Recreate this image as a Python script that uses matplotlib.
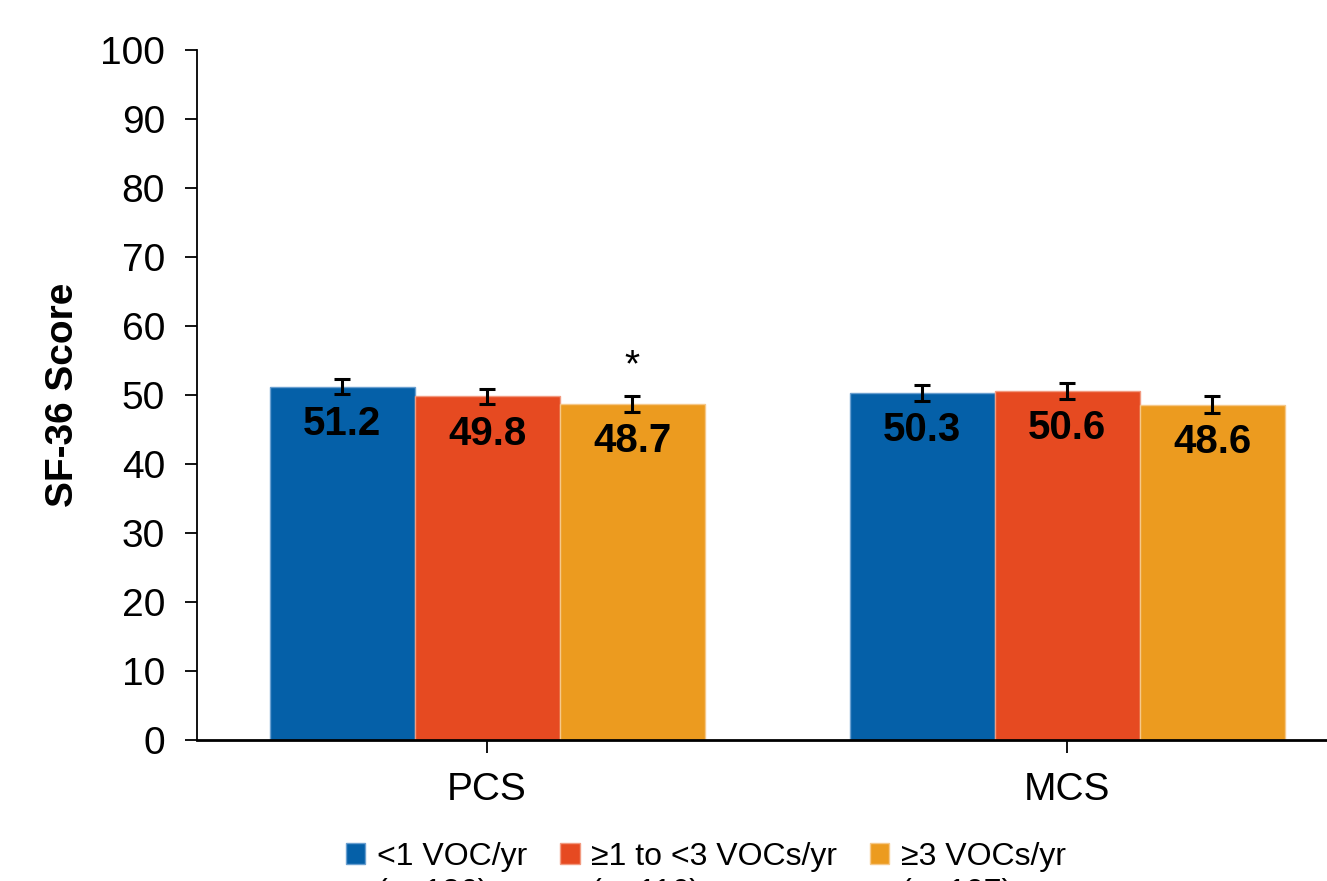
import matplotlib
matplotlib.use("Agg")
import matplotlib.pyplot as plt
import numpy as np

categories = ["PCS", "MCS"]
series_names = ["<1 VOC/yr", "≥1 to <3 VOCs/yr", "≥3 VOCs/yr"]
series_n = ["(n=126)", "(n=116)", "(n=107)"]
values = [[51.2, 50.3], [49.8, 50.6], [48.7, 48.6]]
errors = [[1.1, 1.2], [1.1, 1.2], [1.2, 1.2]]
colors = ["#0560A8", "#E64A21", "#EC9B1F"]
edgecolors = ["#6A9FD0", "#F29A80", "#F6C889"]
significant = [[False, False], [False, False], [True, False]]
yticks = [0, 10, 20, 30, 40, 50, 60, 70, 80, 90, 100]

plt.rcParams['font.family'] = ['Liberation Sans', 'DejaVu Sans']

fig = plt.figure(figsize=(13.27, 8.81), dpi=100)
ax = fig.add_axes([197/1327, 1 - 740/881, 1 - 197/1327, (740 - 50)/881])

x = np.arange(len(categories))
width = 0.25
for i, name in enumerate(series_names):
    pos = x + (i - 1) * width
    ax.bar(pos, values[i], width, color=colors[i], edgecolor=edgecolors[i],
           linewidth=1, label=name, zorder=2)
    ax.errorbar(pos, values[i], yerr=errors[i], fmt='none', ecolor='black',
                elinewidth=2.2, capsize=5.5, capthick=2.2, zorder=3)
    for j, p in enumerate(pos):
        ax.annotate(f"{values[i][j]:.1f}", (p, values[i][j]), xytext=(0, -27),
                    textcoords='offset points', ha='center', va='center',
                    fontsize=29, fontweight='bold', color='black', zorder=4)
        if significant[i][j]:
            ax.annotate("*", (p, values[i][j] + errors[i][j]), xytext=(0, 21),
                        textcoords='offset points', ha='center', va='center',
                        fontsize=28, color='black')

ax.set_xlim(-0.5, 1.448)
ax.set_ylim(0, 100)
ax.set_yticks(yticks)
ax.set_xticks(x)
ax.set_xticklabels(categories)
ax.tick_params(axis='y', labelsize=28, length=9, width=1.3, direction='out', pad=14)
ax.tick_params(axis='x', labelsize=28, length=9, width=1.3, direction='out', pad=14)
ax.spines['top'].set_visible(False)
ax.spines['right'].set_visible(False)
ax.spines['left'].set_linewidth(1.3)
ax.spines['bottom'].set_linewidth(2)
ax.set_ylabel("SF-36 Score", fontsize=28, fontweight='bold', labelpad=14)

leg = fig.legend(loc='upper center', bbox_to_anchor=(0.532, 1 - 829/881), ncol=3,
                 frameon=False, fontsize=23, handlelength=0.6, handleheight=0.6,
                 handletextpad=0.35, columnspacing=1.05, borderaxespad=0)

fig.canvas.draw()
renderer = fig.canvas.get_renderer()
for txt, n in zip(leg.get_texts(), series_n):
    bb = txt.get_window_extent(renderer)
    fx = bb.x0 / fig.bbox.width
    fy = (bb.y0 - 6) / fig.bbox.height
    fig.text(fx, fy, n, fontsize=23, ha='left', va='top')

fig.savefig("out.png", dpi=100)
